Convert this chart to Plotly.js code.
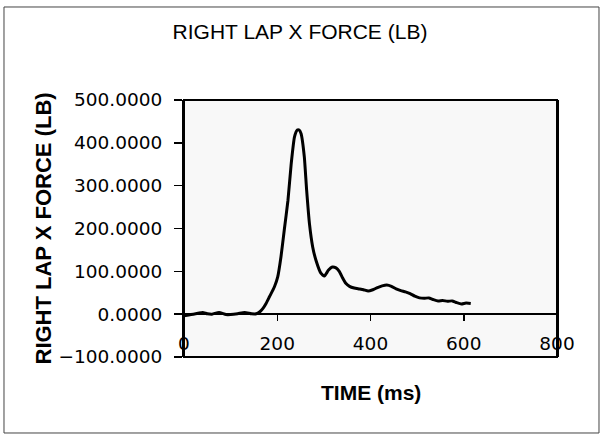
<!DOCTYPE html>
<html>
<head>
<meta charset="utf-8">
<script src="https://cdn.plot.ly/plotly-3.0.1.min.js"></script>
<style>html,body{margin:0;padding:0;background:#fff;}#chart{width:600px;height:434px;}</style>
</head>
<body>
<div id="chart"></div>
<script>
const timeMs = [0,10,20,30,40,50,60,75,90,100,115,130,145,155,162,169,176,183,194,201,208,215,223,230,237,243,247,251,258,263,269,276,283,294,301,310,318,326,333,340,347,355,365,375,385,395,405,415,425,435,445,455,465,475,485,495,505,515,525,535,545,555,565,575,585,595,605,615];
const forceLb = [-4,-2,0,2,4,1,0,4,-1,-1,1,4,1,1,5,13,25,40,64,87,134,196,266,352,414,430,430,422,368,290,212,157,126,95,89,103,110,108,100,85,72,65,61,59,57,54,57,62,66,68,65,59,55,52,48,42,38,37,38,34,31,32,30,31,27,24,26,25];
const xTickVals = [0,200,400,600,800];
const yTickVals = [-100,0,100,200,300,400,500];
const chartTitle = 'RIGHT LAP X FORCE (LB)';
const yTitle = 'RIGHT LAP X FORCE (LB)';
const xTitle = 'TIME (ms)';

const sans = 'Liberation Sans, Arial, Helvetica, sans-serif';
const tickFont = {family: 'DejaVu Sans, sans-serif', size: 18.5, color: '#000'};

const trace = {
  x: timeMs, y: forceLb, type: 'scatter', mode: 'lines',
  line: {color: '#000', width: 3, shape: 'spline', smoothing: 0.5},
  hoverinfo: 'skip'
};

const layout = {
  width: 600, height: 434,
  margin: {l: 184, r: 43, t: 100, b: 77, pad: 0},
  paper_bgcolor: '#fff',
  plot_bgcolor: '#f8f8f8',
  showlegend: false,
  title: {text: chartTitle, font: {family: sans, size: 21, color: '#000'}, x: 0.5, xanchor: 'center', xref: 'container', y: 0.926, yanchor: 'middle'},
  xaxis: {
    range: [0, 800], tickvals: xTickVals, ticktext: xTickVals.map(String),
    anchor: 'free', position: 1/6,
    showline: true, linecolor: '#000', linewidth: 2,
    ticks: 'outside', ticklen: 6, tickwidth: 1.5, tickcolor: '#000',
    tickfont: tickFont, ticklabelstandoff: 7,
    showgrid: false, zeroline: false
  },
  yaxis: {
    range: [-100, 500], tickvals: yTickVals, tickformat: '.4f',
    showline: true, linecolor: '#000', linewidth: 2, mirror: true,
    ticks: 'outside', ticklen: 8, tickwidth: 1.5, tickcolor: '#000',
    tickfont: tickFont, ticklabelstandoff: 8,
    showgrid: false, zeroline: false
  },
  shapes: [
    {type: 'rect', xref: 'paper', yref: 'paper', x0: 0, x1: 1, y0: 0, y1: 1, line: {color: '#000', width: 2}},
    {type: 'rect', xref: 'paper', yref: 'paper', x0: -0.4826, x1: 1.1126, y0: -0.2957, y1: 1.3619, line: {color: '#444', width: 1}}
  ],
  annotations: [
    {text: yTitle, xref: 'paper', yref: 'paper', x: -0.378, y: 0.5, xanchor: 'center', yanchor: 'middle', textangle: -90, showarrow: false, font: {family: sans, size: 22, weight: 'bold', color: '#000'}},
    {text: xTitle, xref: 'paper', yref: 'paper', x: 0.5, y: -0.14, xanchor: 'center', yanchor: 'middle', showarrow: false, font: {family: sans, size: 21, weight: 'bold', color: '#000'}}
  ]
};

Plotly.newPlot('chart', [trace], layout, {displayModeBar: false, staticPlot: true});
</script>
</body>
</html>
